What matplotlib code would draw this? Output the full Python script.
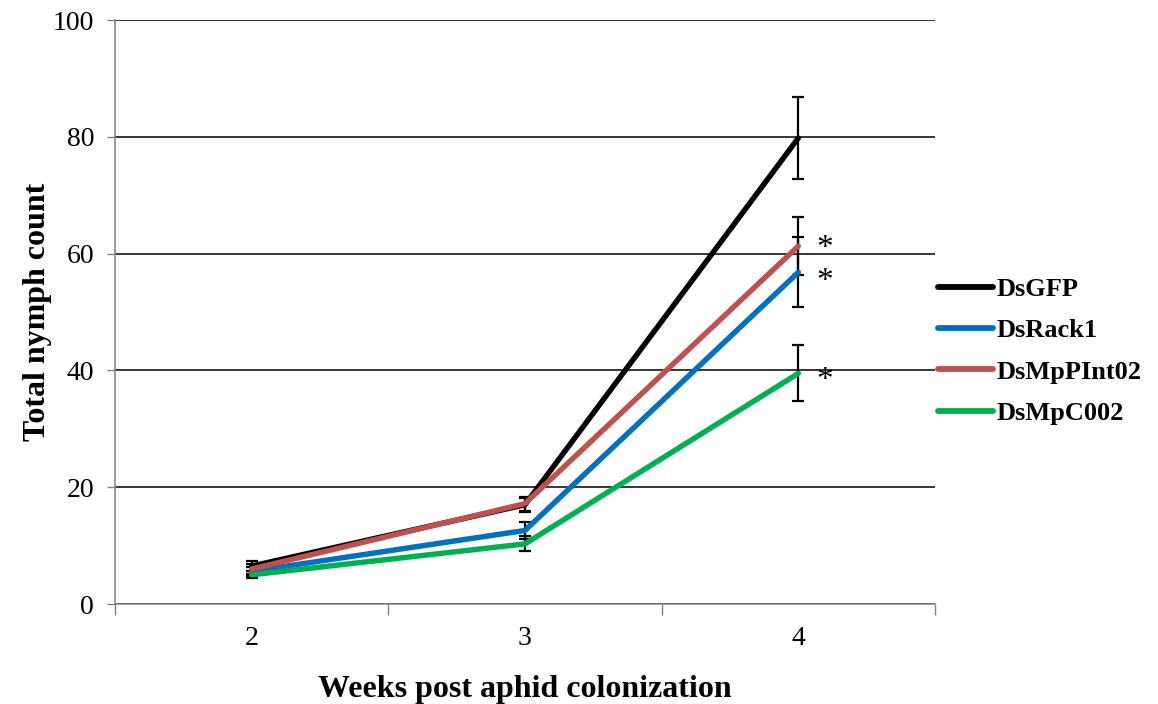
import numpy as np
import matplotlib.pyplot as plt

plt.rcParams['font.family'] = ['Liberation Serif', 'DejaVu Serif']

weeks = ['2', '3', '4']
series = ['DsGFP', 'DsRack1', 'DsMpPInt02', 'DsMpC002']
colors = ['#000000', '#0070C0', '#C0504D', '#00B050']
means = {
    'DsGFP':      [6.5, 17.0, 79.8],
    'DsRack1':    [5.6, 12.6, 56.8],
    'DsMpPInt02': [6.0, 17.2, 61.3],
    'DsMpC002':   [5.0, 10.3, 39.5],
}
errs = {
    'DsGFP':      [0.8, 1.2, 7.0],
    'DsRack1':    [0.8, 1.4, 6.0],
    'DsMpPInt02': [0.8, 1.2, 5.0],
    'DsMpC002':   [0.6, 1.3, 4.8],
}
# significance marks at week 4 (small vertical nudge so they don't collide)
starred = {'DsMpPInt02': -0.4, 'DsRack1': -1.6, 'DsMpC002': -1.2}

fig = plt.figure(figsize=(11.58, 7.04), dpi=100)
ax = fig.add_axes([0.0993, 0.142, 0.7081, 0.8295])

x = np.arange(len(weeks))
for name in ['DsGFP', 'DsMpPInt02', 'DsRack1', 'DsMpC002']:
    ax.errorbar(x, means[name], yerr=errs[name], fmt='none', ecolor='black',
                elinewidth=1.6, capsize=4.5, capthick=1.6, zorder=3)
for name, c in zip(series, colors):
    ax.plot(x, means[name], color=c, lw=3.9, solid_capstyle='round',
            label=name, zorder=3.5 if name == 'DsGFP' else 4)

for name, dy in starred.items():
    ax.text(x[-1] + 0.095, means[name][-1] + dy, '*', fontsize=24,
            ha='center', va='center')

ax.set_xlim(-0.5, 2.5)
ax.set_ylim(0, 100)
ax.set_xticks(x)
ax.set_xticklabels(weeks)
ax.set_xticks([-0.5, 0.5, 1.5, 2.5], minor=True)
ax.tick_params(axis='x', which='major', length=0, labelsize=20, pad=16)
ax.tick_params(axis='x', which='minor', length=8, width=1, color='#808080',
               direction='out')
ax.set_yticks(range(0, 101, 20))
ax.tick_params(axis='y', length=6, width=1, color='#808080', labelsize=20,
               pad=9)
ax.yaxis.grid(True, color='black', lw=1.1)
ax.set_axisbelow(True)
for s in ['top', 'right']:
    ax.spines[s].set_visible(False)
for s in ['left', 'bottom']:
    ax.spines[s].set_color('#808080')
    ax.spines[s].set_linewidth(1.1)

ax.set_xlabel('Weeks post aphid colonization', fontsize=23, fontweight='bold',
              va='center')
ax.xaxis.set_label_coords(0.5, -0.147)
ax.set_ylabel('Total nymph count', fontsize=23, fontweight='bold', va='center')
ax.yaxis.set_label_coords(-0.095, 0.5)

leg = ax.legend(loc='center left', bbox_to_anchor=(1.0037, 0.433),
                frameon=False, prop={'size': 19, 'weight': 'bold'},
                handlelength=2.08, handletextpad=0.15, labelspacing=0.68,
                borderpad=0, borderaxespad=0)
for h in leg.get_lines():
    h.set_linewidth(4.2)

fig.savefig('out.png', dpi=100)
